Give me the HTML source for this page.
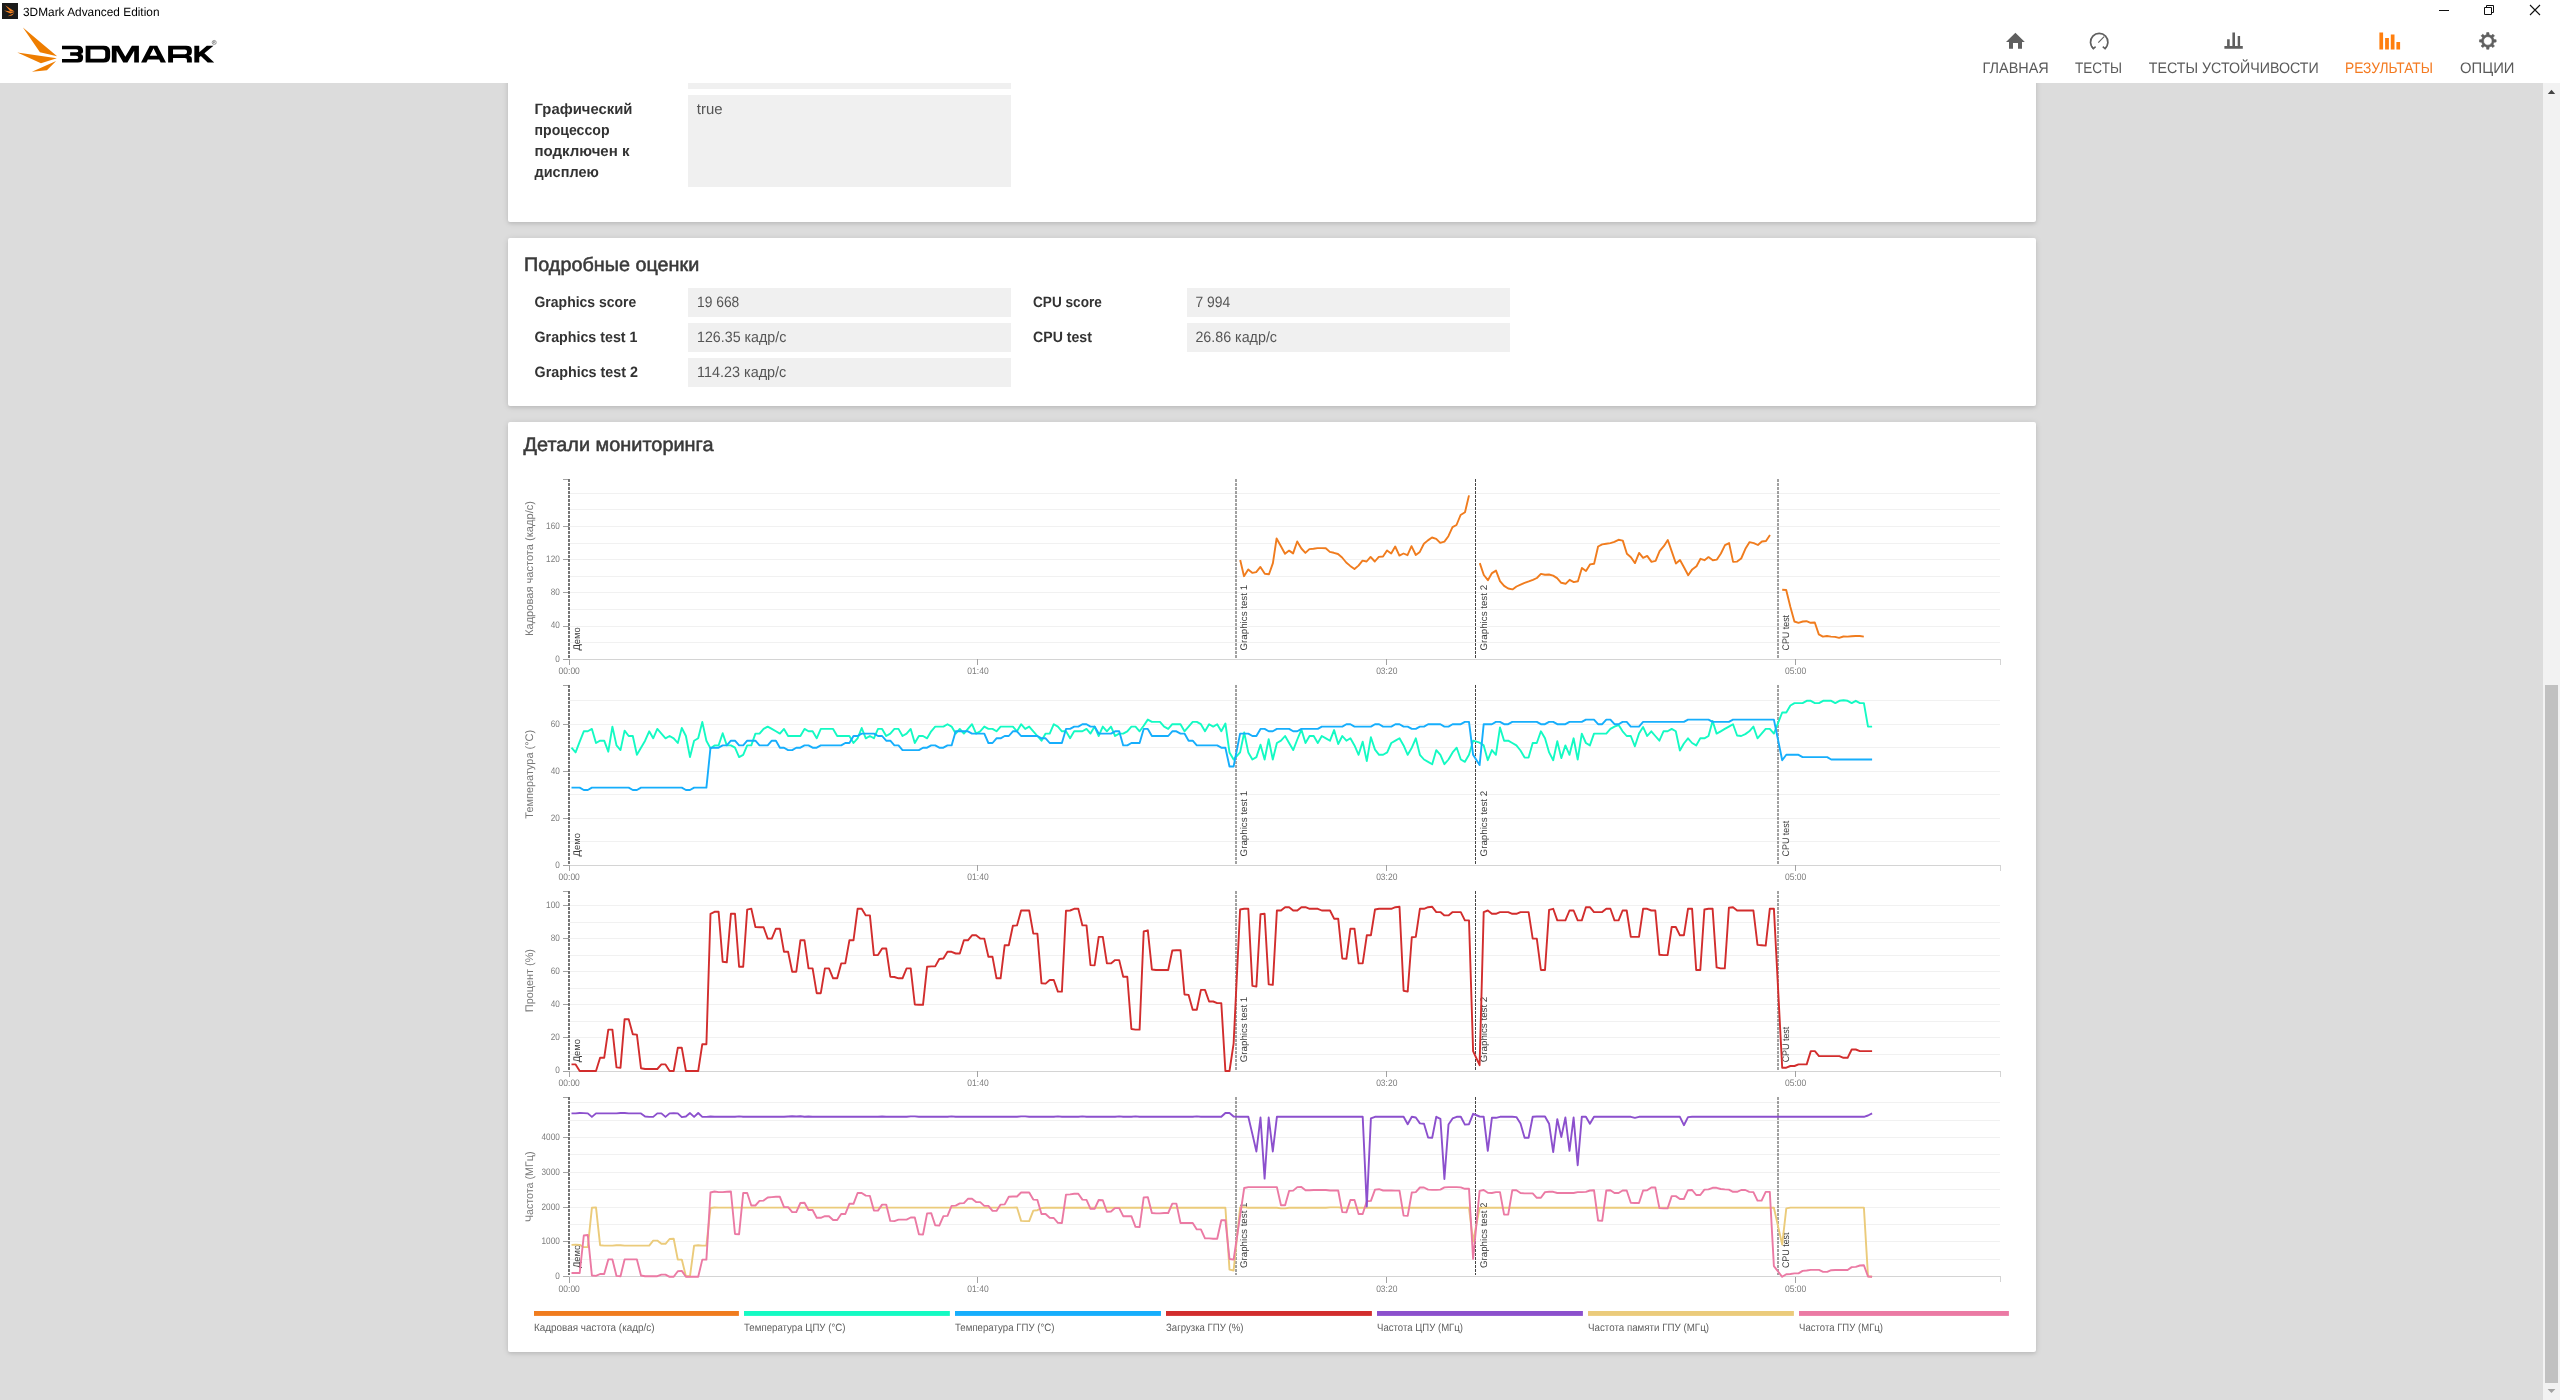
<!DOCTYPE html>
<html lang="ru"><head><meta charset="utf-8"><title>3DMark Advanced Edition</title>
<style>
html,body{margin:0;padding:0;width:2560px;height:1400px;overflow:hidden;background:#fff;font-family:"Liberation Sans", sans-serif;}
.abs{position:absolute;}
#bg{left:0;top:83px;width:2543px;height:1317px;background:#dcdcdc;overflow:hidden;}
.card{position:absolute;left:508px;width:1528px;background:#fff;border-radius:2px;box-shadow:0 1px 6px rgba(0,0,0,.12),0 2px 3px rgba(0,0,0,.06);}
.box{position:absolute;background:#f0f0f0;}
#sb{left:2543px;top:83px;width:17px;height:1317px;background:#f2f2f2;}
#th{left:2545px;top:685px;width:13px;height:698px;background:#c1c1c1;}
svg{position:absolute;left:0;top:0;font-family:"Liberation Sans", sans-serif;will-change:transform;}
</style></head><body>
<div class="abs" id="bg">
 <div class="card" style="top:-40px;height:179px"></div>
 <div class="card" style="top:155px;height:168px"></div>
 <div class="card" style="top:339px;height:930px"></div>
</div>
<div class="box" style="left:688px;top:83px;width:323px;height:6px"></div>
<div class="box" style="left:688px;top:95px;width:323px;height:92px"></div>
<div class="box" style="left:688px;top:288px;width:323px;height:28.5px"></div>
<div class="box" style="left:688px;top:323px;width:323px;height:28.5px"></div>
<div class="box" style="left:688px;top:358px;width:323px;height:28.5px"></div>
<div class="box" style="left:1187px;top:288px;width:323px;height:28.5px"></div>
<div class="box" style="left:1187px;top:323px;width:323px;height:28.5px"></div>
<div class="abs" id="sb"></div><div class="abs" id="th"></div>
<svg width="2560" height="1400" viewBox="0 0 2560 1400">
<path d="M2547.8 94 L2551.5 89.8 L2555.2 94 Z" fill="#444"/><path d="M2547.6 1389 L2551.5 1393 L2555.4 1389 Z" fill="#a3a3a3"/>
<rect x="2" y="3" width="16" height="16" fill="#1b1b1b"/>
<path d="M5.2 5.3 L14.6 11.6 L10 10.9 Z M4 10.6 L14.6 12.1 L10.3 13.5 Z M14.4 13 L11.9 15.6 L7.6 16.2 Z" fill="#f58220"/>
<text transform="translate(23.00,16.00) skewX(0.1)" font-size="12" fill="#000" textLength="136.50" lengthAdjust="spacingAndGlyphs">3DMark Advanced Edition</text>
<path d="M2439 10.5 H2449" stroke="#111" stroke-width="1" fill="none"/>
<path d="M2484.5 7.5 H2491.5 V14.5 H2484.5 Z M2486.5 7.5 V5.5 H2493.5 V12.5 H2491.5" stroke="#111" stroke-width="1" fill="none"/>
<path d="M2530 5 L2540 15 M2540 5 L2530 15" stroke="#111" stroke-width="1.1" fill="none"/>
<g transform="translate(10,22) scale(0.0859375)"><path d="M150 65 L548 398 L348 352 Z" fill="#ee7d00"/><path d="M85 355 L545 421 L360 479 Z" fill="#ee7d00"/><path d="M537 454 L430 560 L255 579 Z" fill="#ee7d00"/><g fill="#000" fill-rule="evenodd"><path d="M605 275 H790 Q850 275 850 330 V345 Q850 368 822 373 Q850 378 850 402 V418 Q850 472 790 472 H605 V430 H770 Q795 430 795 412 Q795 394 770 394 H700 V353 H770 Q795 353 795 336 Q795 318 770 318 H605 Z"/><path d="M880 275 H1090 Q1165 275 1165 340 V408 Q1165 472 1090 472 H880 Z M936 320 H1075 Q1108 320 1108 350 V398 Q1108 428 1075 428 H936 Z"/><path d="M1185 472 V275 H1268 L1342 405 L1418 275 H1500 V472 H1445 V335 L1366 472 H1318 L1240 335 V472 Z"/><path d="M1525 472 L1626 275 H1714 L1815 472 H1753 L1736 437 H1604 L1587 472 Z M1627 393 H1713 L1670 306 Z"/><path d="M1840 275 H2050 Q2116 275 2116 325 V350 Q2116 385 2082 394 Q2116 400 2116 430 V472 H2059 V442 Q2059 420 2035 420 H1897 V472 H1840 Z M1897 320 H2035 Q2059 320 2059 340 V356 Q2059 376 2035 376 H1897 Z"/><path d="M2145 275 H2202 V352 L2290 275 H2368 L2262 363 L2376 472 H2300 L2221 395 L2202 411 V472 H2145 Z"/></g><circle cx="2376" cy="238" r="24" fill="none" stroke="#666" stroke-width="7"/><path d="M2367 252 V225 H2378 Q2386 225 2386 232 Q2386 239 2378 239 H2367 M2378 239 L2387 252" stroke="#666" stroke-width="6" fill="none"/></g>
<path d="M2015.4 32.7 L2024.8 41.9 H2022 V48.8 H2018 V43 H2013 V48.8 H2009 V41.9 H2006 Z" fill="#5f5f5f"/>
<path d="M2093.6 48.8 A8.7 8.7 0 1 1 2104.8 48.8" stroke="#5f5f5f" stroke-width="1.7" fill="none"/>
<path d="M2091.6 46.4 L2093.4 48.7 L2095.6 46.6 M2102.8 46.6 L2105 48.7 L2106.8 46.4" stroke="#5f5f5f" stroke-width="1.5" fill="none"/>
<path d="M2098.3 42.7 L2104.1 36.6" stroke="#5f5f5f" stroke-width="1.1" fill="none"/>
<path d="M2224.4 46 H2242.8 V48.7 H2224.4 Z M2227.1 39.2 H2229.7 V46 H2227.1 Z M2232.4 32.5 H2235 V46 H2232.4 Z M2237.7 36 H2240.1 V46 H2237.7 Z" fill="#5f5f5f"/>
<path d="M2379.4 32.4 H2383.1 V49.6 H2379.4 Z M2385.1 38.1 H2388.9 V49.6 H2385.1 Z M2390.8 34.5 H2394.5 V49.6 H2390.8 Z M2396.4 42 H2400.1 V49.6 H2396.4 Z" fill="#ff7f0e"/>
<path d="M2486.47 34.74 L2486.68 32.57 L2488.92 32.57 L2489.13 34.74 L2491.22 35.61 L2492.90 34.22 L2494.48 35.80 L2493.09 37.48 L2493.96 39.57 L2496.13 39.78 L2496.13 42.02 L2493.96 42.23 L2493.09 44.32 L2494.48 46.00 L2492.90 47.58 L2491.22 46.19 L2489.13 47.06 L2488.92 49.23 L2486.68 49.23 L2486.47 47.06 L2484.38 46.19 L2482.70 47.58 L2481.12 46.00 L2482.51 44.32 L2481.64 42.23 L2479.47 42.02 L2479.47 39.78 L2481.64 39.57 L2482.51 37.48 L2481.12 35.80 L2482.70 34.22 L2484.38 35.61 Z M2483.55 40.90 A4.25 4.25 0 1 0 2492.05 40.90 A4.25 4.25 0 1 0 2483.55 40.90 Z" fill="#5f5f5f" fill-rule="evenodd" stroke="#5f5f5f" stroke-width="0.6" stroke-linejoin="round"/>
<text transform="translate(1982.50,72.80) skewX(0.1)" font-size="15.2" fill="#5a5a5a" textLength="66.30" lengthAdjust="spacingAndGlyphs">ГЛАВНАЯ</text>
<text transform="translate(2075.00,72.80) skewX(0.1)" font-size="15.2" fill="#5a5a5a" textLength="47.00" lengthAdjust="spacingAndGlyphs">ТЕСТЫ</text>
<text transform="translate(2148.80,72.80) skewX(0.1)" font-size="15.2" fill="#5a5a5a" textLength="170.00" lengthAdjust="spacingAndGlyphs">ТЕСТЫ УСТОЙЧИВОСТИ</text>
<text transform="translate(2345.00,72.80) skewX(0.1)" font-size="15.2" fill="#f47a20" textLength="88.00" lengthAdjust="spacingAndGlyphs">РЕЗУЛЬТАТЫ</text>
<text transform="translate(2460.00,72.80) skewX(0.1)" font-size="15.2" fill="#5a5a5a" textLength="54.50" lengthAdjust="spacingAndGlyphs">ОПЦИИ</text>
<text transform="translate(534.50,114.30) skewX(0.1)" font-size="15" fill="#333" font-weight="bold" textLength="98.00" lengthAdjust="spacingAndGlyphs">Графический</text>
<text transform="translate(534.50,135.30) skewX(0.1)" font-size="15" fill="#333" font-weight="bold" textLength="75.00" lengthAdjust="spacingAndGlyphs">процессор</text>
<text transform="translate(534.50,156.30) skewX(0.1)" font-size="15" fill="#333" font-weight="bold" textLength="95.00" lengthAdjust="spacingAndGlyphs">подключен к</text>
<text transform="translate(534.50,177.30) skewX(0.1)" font-size="15" fill="#333" font-weight="bold" textLength="64.30" lengthAdjust="spacingAndGlyphs">дисплею</text>
<text transform="translate(696.80,113.80) skewX(0.1)" font-size="15" fill="#555" textLength="25.80" lengthAdjust="spacingAndGlyphs">true</text>
<text transform="translate(524.00,271.20) skewX(0.1)" font-size="19.5" fill="#3a3a3a" textLength="175.30" lengthAdjust="spacingAndGlyphs" stroke="#3a3a3a" stroke-width="0.55">Подробные оценки</text>
<text transform="translate(534.50,307.20) skewX(0.1)" font-size="15" fill="#333" font-weight="bold" textLength="101.80" lengthAdjust="spacingAndGlyphs">Graphics score</text>
<text transform="translate(534.50,342.20) skewX(0.1)" font-size="15" fill="#333" font-weight="bold" textLength="103.00" lengthAdjust="spacingAndGlyphs">Graphics test 1</text>
<text transform="translate(534.50,377.20) skewX(0.1)" font-size="15" fill="#333" font-weight="bold" textLength="103.50" lengthAdjust="spacingAndGlyphs">Graphics test 2</text>
<text transform="translate(697.00,307.20) skewX(0.1)" font-size="15" fill="#555" textLength="42.30" lengthAdjust="spacingAndGlyphs">19 668</text>
<text transform="translate(697.00,342.20) skewX(0.1)" font-size="15" fill="#555" textLength="89.30" lengthAdjust="spacingAndGlyphs">126.35 кадр/с</text>
<text transform="translate(697.00,377.20) skewX(0.1)" font-size="15" fill="#555" textLength="89.30" lengthAdjust="spacingAndGlyphs">114.23 кадр/с</text>
<text transform="translate(1033.00,307.20) skewX(0.1)" font-size="15" fill="#333" font-weight="bold" textLength="68.90" lengthAdjust="spacingAndGlyphs">CPU score</text>
<text transform="translate(1033.00,342.20) skewX(0.1)" font-size="15" fill="#333" font-weight="bold" textLength="58.90" lengthAdjust="spacingAndGlyphs">CPU test</text>
<text transform="translate(1195.40,307.20) skewX(0.1)" font-size="15" fill="#555" textLength="34.80" lengthAdjust="spacingAndGlyphs">7 994</text>
<text transform="translate(1195.40,342.20) skewX(0.1)" font-size="15" fill="#555" textLength="81.60" lengthAdjust="spacingAndGlyphs">26.86 кадр/с</text>
<text transform="translate(523.50,451.20) skewX(0.1)" font-size="19.5" fill="#3a3a3a" textLength="190.00" lengthAdjust="spacingAndGlyphs" stroke="#3a3a3a" stroke-width="0.55">Детали мониторинга</text>
<path d="M569.2 642.60H2000.3M569.2 626.00H2000.3M569.2 609.40H2000.3M569.2 592.80H2000.3M569.2 576.20H2000.3M569.2 559.60H2000.3M569.2 543.00H2000.3M569.2 526.40H2000.3M569.2 509.80H2000.3M569.2 493.20H2000.3" stroke="#f1f1f1" stroke-width="1" fill="none" shape-rendering="crispEdges"/>
<path d="M569.2 659.20H2000.3V664.70" stroke="#d4d4d4" stroke-width="1" fill="none" shape-rendering="crispEdges"/>
<path d="M569.5 659.20v6M977.5 659.20v6M1386.5 659.20v6M1795.5 659.20v6" stroke="#a2a2a2" stroke-width="1" fill="none" shape-rendering="crispEdges"/>
<text transform="translate(569.20,673.90) skewX(0.1)" font-size="9.4" fill="#7c7c7c" text-anchor="middle" textLength="21.30" lengthAdjust="spacingAndGlyphs">00:00</text>
<text transform="translate(977.98,673.90) skewX(0.1)" font-size="9.4" fill="#7c7c7c" text-anchor="middle" textLength="21.30" lengthAdjust="spacingAndGlyphs">01:40</text>
<text transform="translate(1386.77,673.90) skewX(0.1)" font-size="9.4" fill="#7c7c7c" text-anchor="middle" textLength="21.30" lengthAdjust="spacingAndGlyphs">03:20</text>
<text transform="translate(1795.55,673.90) skewX(0.1)" font-size="9.4" fill="#7c7c7c" text-anchor="middle" textLength="21.30" lengthAdjust="spacingAndGlyphs">05:00</text>
<path d="M563.2 659.20h6M563.2 626.00h6M563.2 592.80h6M563.2 559.60h6M563.2 526.40h6M563.2 479.50h6" stroke="#a2a2a2" stroke-width="1" fill="none" shape-rendering="crispEdges"/>
<text transform="translate(559.80,661.65) skewX(0.1)" font-size="9.4" fill="#7c7c7c" text-anchor="end" textLength="4.57" lengthAdjust="spacingAndGlyphs">0</text>
<text transform="translate(559.80,628.45) skewX(0.1)" font-size="9.4" fill="#7c7c7c" text-anchor="end" textLength="9.14" lengthAdjust="spacingAndGlyphs">40</text>
<text transform="translate(559.80,595.25) skewX(0.1)" font-size="9.4" fill="#7c7c7c" text-anchor="end" textLength="9.14" lengthAdjust="spacingAndGlyphs">80</text>
<text transform="translate(559.80,562.05) skewX(0.1)" font-size="9.4" fill="#7c7c7c" text-anchor="end" textLength="13.71" lengthAdjust="spacingAndGlyphs">120</text>
<text transform="translate(559.80,528.85) skewX(0.1)" font-size="9.4" fill="#7c7c7c" text-anchor="end" textLength="13.71" lengthAdjust="spacingAndGlyphs">160</text>
<text transform="translate(533.20,568.50) rotate(-90) skewX(0.1)" font-size="11" fill="#777" text-anchor="middle" textLength="135.00" lengthAdjust="spacingAndGlyphs">Кадровая частота (кадр/с)</text>
<path d="M569.0 479V658" stroke="#686868" stroke-width="1.8" stroke-dasharray="3 1" fill="none"/>
<text transform="translate(580.10,650.50) rotate(-90) skewX(0.1)" font-size="9.6" fill="#3a3a3a" textLength="23.3" lengthAdjust="spacingAndGlyphs">Демо</text>
<path d="M1236.0 479V658" stroke="#454545" stroke-width="1" stroke-dasharray="3 1" fill="none"/>
<text transform="translate(1247.10,650.50) rotate(-90) skewX(0.1)" font-size="9.6" fill="#3a3a3a" textLength="65.6" lengthAdjust="spacingAndGlyphs">Graphics test 1</text>
<path d="M1475.5 479V658" stroke="#454545" stroke-width="1" stroke-dasharray="3 1" fill="none"/>
<text transform="translate(1486.60,650.50) rotate(-90) skewX(0.1)" font-size="9.6" fill="#3a3a3a" textLength="65.6" lengthAdjust="spacingAndGlyphs">Graphics test 2</text>
<path d="M1778.0 479V658" stroke="#454545" stroke-width="1" stroke-dasharray="3 1" fill="none"/>
<text transform="translate(1789.10,650.50) rotate(-90) skewX(0.1)" font-size="9.6" fill="#3a3a3a" textLength="35.6" lengthAdjust="spacingAndGlyphs">CPU test</text>
<path d="M1240.2 560.0L1244.0 576.2L1248.2 569.4L1252.5 572.9L1256.2 572.1L1260.4 566.9L1264.8 573.8L1269.0 574.2L1272.9 563.1L1276.6 538.5L1280.9 546.2L1285.0 553.8L1289.1 550.6L1293.1 553.4L1297.2 541.5L1301.4 548.5L1305.4 552.9L1309.4 549.1L1313.5 548.8L1317.5 548.1L1321.9 548.1L1325.8 548.2L1329.8 551.9L1333.8 552.8L1338.0 554.0L1342.1 557.5L1346.2 562.5L1350.2 565.9L1354.5 569.0L1358.5 565.6L1362.5 560.6L1366.6 561.5L1370.6 556.9L1374.8 561.5L1378.8 556.9L1383.0 556.5L1387.0 550.4L1391.2 553.4L1395.2 546.5L1399.4 555.6L1403.5 553.5L1407.5 555.2L1411.5 546.2L1415.8 555.0L1419.8 551.9L1423.9 543.8L1427.9 540.4L1432.0 537.5L1436.2 538.8L1440.2 542.9L1444.4 541.6L1448.4 536.2L1452.5 527.2L1456.5 525.0L1460.6 515.0L1465.0 512.2L1469.0 495.4M1479.8 563.1L1483.8 575.0L1487.9 580.2L1492.0 573.1L1496.0 570.6L1500.0 581.2L1504.1 585.9L1508.2 588.5L1512.5 589.4L1516.5 586.5L1520.6 584.6L1524.6 582.9L1528.8 581.4L1532.9 579.8L1536.9 578.0L1540.9 573.9L1545.0 574.8L1549.0 574.5L1553.1 575.6L1557.1 578.1L1561.2 582.8L1565.6 583.8L1569.6 579.8L1573.8 582.1L1577.9 581.2L1581.9 567.9L1586.0 571.0L1590.0 564.4L1594.1 563.8L1598.1 546.5L1602.2 544.4L1606.2 543.8L1610.4 543.1L1614.4 541.9L1618.5 539.8L1622.8 540.6L1626.9 553.8L1630.9 557.2L1635.0 563.1L1639.1 552.9L1643.1 557.8L1647.2 555.9L1651.5 561.9L1655.6 560.9L1659.6 551.2L1663.8 546.2L1667.8 540.0L1671.9 551.9L1675.9 563.5L1680.0 560.0L1684.1 567.5L1688.2 575.2L1692.2 569.4L1696.5 566.2L1700.5 558.8L1704.5 560.2L1708.5 557.1L1712.8 560.2L1716.9 559.6L1720.9 553.5L1725.0 545.2L1729.1 543.1L1733.1 561.9L1737.1 561.6L1741.2 558.5L1745.4 548.8L1749.6 542.1L1753.8 543.1L1757.9 545.0L1761.9 541.5L1766.0 541.0L1770.0 535.0M1782.2 589.8L1786.2 590.0L1790.4 606.9L1794.4 621.5L1798.5 622.8L1802.8 621.5L1806.5 621.2L1810.6 622.8L1814.8 622.5L1818.8 634.4L1822.9 636.6L1826.9 636.0L1831.0 636.6L1835.0 636.9L1839.1 637.9L1843.4 636.5L1847.5 636.6L1851.5 636.2L1855.6 636.0L1859.8 636.0L1863.8 636.6" stroke="#f07c1e" stroke-width="1.9" fill="none" stroke-linejoin="round" stroke-linecap="butt"/>
<path d="M569.2 841.62H2000.3M569.2 818.15H2000.3M569.2 794.67H2000.3M569.2 771.20H2000.3M569.2 747.73H2000.3M569.2 724.25H2000.3M569.2 700.77H2000.3" stroke="#f1f1f1" stroke-width="1" fill="none" shape-rendering="crispEdges"/>
<path d="M569.2 865.10H2000.3V870.60" stroke="#d4d4d4" stroke-width="1" fill="none" shape-rendering="crispEdges"/>
<path d="M569.5 865.10v6M977.5 865.10v6M1386.5 865.10v6M1795.5 865.10v6" stroke="#a2a2a2" stroke-width="1" fill="none" shape-rendering="crispEdges"/>
<text transform="translate(569.20,879.80) skewX(0.1)" font-size="9.4" fill="#7c7c7c" text-anchor="middle" textLength="21.30" lengthAdjust="spacingAndGlyphs">00:00</text>
<text transform="translate(977.98,879.80) skewX(0.1)" font-size="9.4" fill="#7c7c7c" text-anchor="middle" textLength="21.30" lengthAdjust="spacingAndGlyphs">01:40</text>
<text transform="translate(1386.77,879.80) skewX(0.1)" font-size="9.4" fill="#7c7c7c" text-anchor="middle" textLength="21.30" lengthAdjust="spacingAndGlyphs">03:20</text>
<text transform="translate(1795.55,879.80) skewX(0.1)" font-size="9.4" fill="#7c7c7c" text-anchor="middle" textLength="21.30" lengthAdjust="spacingAndGlyphs">05:00</text>
<path d="M563.2 865.10h6M563.2 818.15h6M563.2 771.20h6M563.2 724.25h6M563.2 685.20h6" stroke="#a2a2a2" stroke-width="1" fill="none" shape-rendering="crispEdges"/>
<text transform="translate(559.80,867.55) skewX(0.1)" font-size="9.4" fill="#7c7c7c" text-anchor="end" textLength="4.57" lengthAdjust="spacingAndGlyphs">0</text>
<text transform="translate(559.80,820.60) skewX(0.1)" font-size="9.4" fill="#7c7c7c" text-anchor="end" textLength="9.14" lengthAdjust="spacingAndGlyphs">20</text>
<text transform="translate(559.80,773.65) skewX(0.1)" font-size="9.4" fill="#7c7c7c" text-anchor="end" textLength="9.14" lengthAdjust="spacingAndGlyphs">40</text>
<text transform="translate(559.80,726.70) skewX(0.1)" font-size="9.4" fill="#7c7c7c" text-anchor="end" textLength="9.14" lengthAdjust="spacingAndGlyphs">60</text>
<text transform="translate(533.20,774.30) rotate(-90) skewX(0.1)" font-size="11" fill="#777" text-anchor="middle" textLength="88.70" lengthAdjust="spacingAndGlyphs">Температура (°C)</text>
<path d="M569.0 685V864" stroke="#686868" stroke-width="1.8" stroke-dasharray="3 1" fill="none"/>
<text transform="translate(580.10,856.40) rotate(-90) skewX(0.1)" font-size="9.6" fill="#3a3a3a" textLength="23.3" lengthAdjust="spacingAndGlyphs">Демо</text>
<path d="M1236.0 685V864" stroke="#454545" stroke-width="1" stroke-dasharray="3 1" fill="none"/>
<text transform="translate(1247.10,856.40) rotate(-90) skewX(0.1)" font-size="9.6" fill="#3a3a3a" textLength="65.6" lengthAdjust="spacingAndGlyphs">Graphics test 1</text>
<path d="M1475.5 685V864" stroke="#454545" stroke-width="1" stroke-dasharray="3 1" fill="none"/>
<text transform="translate(1486.60,856.40) rotate(-90) skewX(0.1)" font-size="9.6" fill="#3a3a3a" textLength="65.6" lengthAdjust="spacingAndGlyphs">Graphics test 2</text>
<path d="M1778.0 685V864" stroke="#454545" stroke-width="1" stroke-dasharray="3 1" fill="none"/>
<text transform="translate(1789.10,856.40) rotate(-90) skewX(0.1)" font-size="9.6" fill="#3a3a3a" textLength="35.6" lengthAdjust="spacingAndGlyphs">CPU test</text>
<path d="M571.5 747.7L575.6 752.4L579.7 741.6L583.8 731.3L587.8 731.3L591.9 728.9L596.0 743.0L600.1 740.7L604.2 740.7L608.3 751.7L612.4 726.6L616.5 745.4L620.5 750.1L624.6 730.6L628.7 736.0L632.8 736.0L636.9 754.8L641.0 747.7L645.1 740.7L649.2 731.3L653.2 738.3L657.3 728.9L661.4 733.6L665.5 738.3L669.6 736.0L673.7 738.3L677.8 743.0L681.8 728.0L685.9 736.0L690.0 757.1L694.1 740.7L698.2 738.3L702.3 721.9L706.4 740.7L710.5 748.4L714.5 745.4L718.6 745.4L722.7 733.2L726.8 745.4L730.9 745.4L735.0 747.7L739.1 757.1L743.2 754.8L747.2 745.4L751.3 745.4L755.4 733.6L759.5 733.6L763.6 728.9L767.7 726.6L771.8 728.9L775.9 731.3L779.9 733.6L784.0 728.9L788.1 736.0L792.2 736.0L796.3 736.0L800.4 736.0L804.5 728.9L808.5 731.3L812.6 731.3L816.7 738.3L820.8 728.9L824.9 728.9L829.0 728.9L833.1 728.9L837.2 736.0L841.2 736.0L845.3 736.0L849.4 736.0L853.5 743.0L857.6 738.3L861.7 728.0L865.8 738.3L869.9 736.0L873.9 738.3L878.0 728.9L882.1 728.9L886.2 736.0L890.3 733.6L894.4 728.9L898.5 728.9L902.5 736.0L906.6 733.6L910.7 728.9L914.8 743.0L918.9 736.0L923.0 736.0L927.1 738.3L931.2 731.3L935.2 726.6L939.3 726.6L943.4 726.6L947.5 724.2L951.6 726.6L955.7 733.6L959.8 728.9L963.9 733.6L967.9 728.9L972.0 724.2L976.1 733.6L980.2 731.3L984.3 726.6L988.4 728.9L992.5 728.9L996.5 731.3L1000.6 726.6L1004.7 726.6L1008.8 726.6L1012.9 726.6L1017.0 731.3L1021.1 724.2L1025.2 728.9L1029.2 726.6L1033.3 731.3L1037.4 736.0L1041.5 740.7L1045.6 733.6L1049.7 733.6L1053.8 724.2L1057.9 726.6L1061.9 731.3L1066.0 731.3L1070.1 738.3L1074.2 731.3L1078.3 731.3L1082.4 731.3L1086.5 728.9L1090.5 733.6L1094.6 726.6L1098.7 736.0L1102.8 726.6L1106.9 731.3L1111.0 726.6L1115.1 736.0L1119.2 733.6L1123.2 733.6L1127.3 731.3L1131.4 726.6L1135.5 726.6L1139.6 731.3L1143.7 725.7L1147.8 719.6L1151.9 721.9L1155.9 721.9L1160.0 721.9L1164.1 726.6L1168.2 728.9L1172.3 724.2L1176.4 724.2L1180.5 724.2L1184.5 731.3L1188.6 726.6L1192.7 721.9L1196.8 721.9L1200.9 724.2L1205.0 731.3L1209.1 724.2L1213.2 726.6L1217.2 724.2L1221.3 731.3L1225.4 723.5L1229.5 752.4L1233.6 759.5L1240.1 752.4L1244.2 732.5L1248.3 752.4L1252.4 759.5L1256.4 757.1L1260.5 744.7L1264.6 759.5L1268.7 739.3L1272.8 759.5L1276.9 743.0L1281.0 740.7L1285.1 736.0L1289.1 743.0L1293.2 750.1L1297.3 739.5L1301.4 729.6L1305.5 743.0L1309.6 736.0L1313.7 736.0L1317.8 743.0L1321.8 736.0L1325.9 738.3L1330.0 740.7L1334.1 730.1L1338.2 744.0L1342.3 736.0L1346.4 740.7L1350.4 738.3L1354.5 745.4L1358.6 754.8L1362.7 741.6L1366.8 761.1L1370.9 737.2L1375.0 749.6L1379.1 754.8L1383.1 754.8L1387.2 752.4L1391.3 743.0L1395.4 740.7L1399.5 738.3L1403.6 745.4L1407.7 754.8L1411.8 747.7L1415.8 738.3L1419.9 754.8L1424.0 759.5L1428.1 761.8L1432.2 764.2L1436.3 750.1L1440.4 754.8L1444.4 764.2L1448.5 759.5L1452.6 752.4L1456.7 747.7L1460.8 759.5L1464.9 761.8L1469.0 754.8L1473.1 740.7L1479.6 742.6L1483.7 745.4L1487.8 760.2L1491.9 750.1L1495.9 754.8L1500.0 727.5L1504.1 740.7L1508.2 740.7L1512.3 743.0L1516.4 745.4L1520.5 750.5L1524.6 757.6L1528.6 757.6L1532.7 743.0L1536.8 743.0L1540.9 731.3L1545.0 738.3L1549.1 752.4L1553.2 760.2L1557.3 741.2L1561.3 758.1L1565.4 745.4L1569.5 754.8L1573.6 738.3L1577.7 759.5L1581.8 733.6L1585.9 743.0L1589.9 745.4L1594.0 733.6L1598.1 733.6L1602.2 733.6L1606.3 733.6L1610.4 728.9L1614.5 726.6L1618.6 725.0L1622.6 731.3L1626.7 736.0L1630.8 736.0L1634.9 746.3L1639.0 733.6L1643.1 727.1L1647.2 736.0L1651.3 731.3L1655.3 736.0L1659.4 740.7L1663.5 731.3L1667.6 731.3L1671.7 728.9L1675.8 731.3L1679.9 750.5L1683.9 743.5L1688.0 738.3L1692.1 743.0L1696.2 745.4L1700.3 738.3L1704.4 738.3L1708.5 736.0L1712.6 721.0L1716.6 733.6L1720.7 731.3L1724.8 728.9L1728.9 726.6L1733.0 724.2L1737.1 735.5L1741.2 736.0L1745.3 734.1L1749.3 731.3L1753.4 726.6L1757.5 738.3L1761.6 733.6L1765.7 728.9L1769.8 728.9L1773.9 733.6L1782.2 712.5L1786.3 712.5L1790.4 705.5L1794.5 703.1L1798.5 703.1L1802.6 703.1L1806.7 700.8L1810.8 700.8L1814.9 703.1L1819.0 703.1L1823.1 700.8L1827.2 700.8L1831.2 700.8L1835.3 703.1L1839.4 700.8L1843.5 700.3L1847.6 700.8L1851.7 703.1L1855.8 700.8L1859.9 703.1L1863.9 703.1L1868.0 726.6L1872.1 726.6" stroke="#14fac3" stroke-width="1.9" fill="none" stroke-linejoin="round" stroke-linecap="butt"/>
<path d="M571.5 787.6L575.6 787.6L579.7 787.6L583.8 790.0L587.8 790.0L591.9 787.6L596.0 787.6L600.1 787.6L604.2 787.6L608.3 787.6L612.4 787.6L616.5 787.6L620.5 787.6L624.6 787.6L628.7 787.6L632.8 790.0L636.9 790.0L641.0 787.6L645.1 787.6L649.2 787.6L653.2 787.6L657.3 787.6L661.4 787.6L665.5 787.6L669.6 787.6L673.7 787.6L677.8 787.6L681.8 787.6L685.9 790.0L690.0 790.0L694.1 787.6L698.2 787.6L702.3 787.6L706.4 787.6L710.5 747.7L714.5 747.7L718.6 747.7L722.7 745.4L726.8 745.4L730.9 740.7L735.0 740.7L739.1 745.4L743.2 745.4L747.2 740.7L751.3 740.7L755.4 740.7L759.5 745.4L763.6 745.4L767.7 745.4L771.8 740.7L775.9 740.7L779.9 747.7L784.0 747.7L788.1 750.1L792.2 750.1L796.3 747.7L800.4 747.7L804.5 745.4L808.5 745.4L812.6 747.7L816.7 747.7L820.8 745.4L824.9 745.4L829.0 745.4L833.1 745.4L837.2 745.4L841.2 745.4L845.3 743.0L849.4 743.0L853.5 736.0L857.6 736.0L861.7 733.6L865.8 733.6L869.9 733.6L873.9 733.6L878.0 736.0L882.1 736.0L886.2 740.7L890.3 740.7L894.4 745.4L898.5 745.4L902.5 750.1L906.6 750.1L910.7 750.1L914.8 750.1L918.9 750.1L923.0 747.7L927.1 747.7L931.2 745.4L935.2 745.4L939.3 747.7L943.4 747.7L947.5 745.4L951.6 745.4L955.7 731.3L959.8 731.3L963.9 731.3L967.9 731.3L972.0 733.6L976.1 733.6L980.2 733.6L984.3 733.6L988.4 743.0L992.5 743.0L996.5 738.3L1000.6 738.3L1004.7 736.0L1008.8 736.0L1012.9 731.3L1017.0 731.3L1021.1 736.0L1025.2 736.0L1029.2 736.0L1033.3 736.0L1037.4 736.0L1041.5 738.3L1045.6 738.3L1049.7 743.0L1053.8 743.0L1057.9 743.0L1061.9 743.0L1066.0 728.9L1070.1 728.9L1074.2 726.6L1078.3 726.6L1082.4 724.2L1086.5 724.2L1090.5 726.6L1094.6 726.6L1098.7 733.6L1102.8 733.6L1106.9 733.6L1111.0 733.6L1115.1 731.3L1119.2 731.3L1123.2 745.4L1127.3 745.4L1131.4 743.0L1135.5 743.0L1139.6 743.0L1143.7 728.9L1147.8 728.9L1151.9 736.0L1155.9 736.0L1160.0 736.0L1164.1 736.0L1168.2 736.0L1172.3 731.3L1176.4 731.3L1180.5 733.6L1184.5 733.6L1188.6 740.7L1192.7 740.7L1196.8 745.4L1200.9 745.4L1205.0 745.4L1209.1 745.4L1213.2 745.4L1217.2 745.4L1221.3 747.7L1225.4 747.7L1229.5 766.5L1233.6 766.5L1240.1 733.6L1244.2 733.6L1248.3 733.6L1252.4 736.0L1256.4 736.0L1260.5 728.9L1264.6 728.9L1268.7 731.3L1272.8 731.3L1276.9 728.9L1281.0 728.9L1285.1 728.9L1289.1 728.9L1293.2 731.3L1297.3 731.3L1301.4 728.9L1305.5 728.9L1309.6 728.9L1313.7 728.9L1317.8 728.9L1321.8 726.6L1325.9 726.6L1330.0 726.6L1334.1 726.6L1338.2 726.6L1342.3 726.6L1346.4 724.2L1350.4 724.2L1354.5 726.6L1358.6 726.6L1362.7 726.6L1366.8 726.6L1370.9 726.6L1375.0 724.2L1379.1 724.2L1383.1 726.6L1387.2 726.6L1391.3 726.6L1395.4 724.2L1399.5 724.2L1403.6 726.6L1407.7 726.6L1411.8 728.9L1415.8 728.9L1419.9 726.6L1424.0 726.6L1428.1 724.2L1432.2 724.2L1436.3 724.2L1440.4 724.2L1444.4 726.6L1448.5 726.6L1452.6 724.2L1456.7 724.2L1460.8 724.2L1464.9 721.9L1469.0 721.9L1473.1 754.8L1479.6 765.1L1483.7 724.2L1487.8 724.2L1491.9 724.2L1495.9 721.9L1500.0 721.9L1504.1 724.2L1508.2 724.2L1512.3 721.9L1516.4 721.9L1520.5 721.9L1524.6 721.9L1528.6 721.9L1532.7 721.9L1536.8 721.9L1540.9 724.2L1545.0 724.2L1549.1 721.9L1553.2 721.9L1557.3 724.2L1561.3 724.2L1565.4 724.2L1569.5 721.9L1573.6 721.9L1577.7 721.9L1581.8 721.9L1585.9 719.6L1589.9 719.6L1594.0 719.6L1598.1 724.2L1602.2 724.2L1606.3 719.6L1610.4 719.6L1614.5 724.2L1618.6 724.2L1622.6 721.9L1626.7 721.9L1630.8 726.6L1634.9 726.6L1639.0 726.6L1643.1 721.9L1647.2 721.9L1651.3 721.9L1655.3 721.9L1659.4 721.9L1663.5 721.9L1667.6 721.9L1671.7 721.9L1675.8 721.9L1679.9 721.9L1683.9 721.9L1688.0 719.6L1692.1 719.6L1696.2 719.6L1700.3 719.6L1704.4 719.6L1708.5 719.6L1712.6 721.9L1716.6 721.9L1720.7 721.9L1724.8 721.9L1728.9 721.9L1733.0 719.6L1737.1 719.6L1741.2 719.6L1745.3 719.6L1749.3 719.6L1753.4 719.6L1757.5 719.6L1761.6 719.6L1765.7 719.6L1769.8 719.6L1773.9 719.6L1782.2 760.2L1786.3 754.8L1790.4 754.8L1794.5 754.8L1798.5 754.8L1802.6 757.1L1806.7 757.1L1810.8 757.1L1814.9 757.1L1819.0 757.1L1823.1 757.1L1827.2 757.1L1831.2 759.5L1835.3 759.5L1839.4 759.5L1843.5 759.5L1847.6 759.5L1851.7 759.5L1855.8 759.5L1859.9 759.5L1863.9 759.5L1868.0 759.5L1872.1 759.5" stroke="#16aefc" stroke-width="1.9" fill="none" stroke-linejoin="round" stroke-linecap="butt"/>
<path d="M569.2 1054.45H2000.3M569.2 1037.90H2000.3M569.2 1021.35H2000.3M569.2 1004.80H2000.3M569.2 988.25H2000.3M569.2 971.70H2000.3M569.2 955.15H2000.3M569.2 938.60H2000.3M569.2 922.05H2000.3M569.2 905.50H2000.3" stroke="#f1f1f1" stroke-width="1" fill="none" shape-rendering="crispEdges"/>
<path d="M569.2 1071.00H2000.3V1076.50" stroke="#d4d4d4" stroke-width="1" fill="none" shape-rendering="crispEdges"/>
<path d="M569.5 1071.00v6M977.5 1071.00v6M1386.5 1071.00v6M1795.5 1071.00v6" stroke="#a2a2a2" stroke-width="1" fill="none" shape-rendering="crispEdges"/>
<text transform="translate(569.20,1085.70) skewX(0.1)" font-size="9.4" fill="#7c7c7c" text-anchor="middle" textLength="21.30" lengthAdjust="spacingAndGlyphs">00:00</text>
<text transform="translate(977.98,1085.70) skewX(0.1)" font-size="9.4" fill="#7c7c7c" text-anchor="middle" textLength="21.30" lengthAdjust="spacingAndGlyphs">01:40</text>
<text transform="translate(1386.77,1085.70) skewX(0.1)" font-size="9.4" fill="#7c7c7c" text-anchor="middle" textLength="21.30" lengthAdjust="spacingAndGlyphs">03:20</text>
<text transform="translate(1795.55,1085.70) skewX(0.1)" font-size="9.4" fill="#7c7c7c" text-anchor="middle" textLength="21.30" lengthAdjust="spacingAndGlyphs">05:00</text>
<path d="M563.2 1071.00h6M563.2 1037.90h6M563.2 1004.80h6M563.2 971.70h6M563.2 938.60h6M563.2 905.50h6M563.2 891.50h6" stroke="#a2a2a2" stroke-width="1" fill="none" shape-rendering="crispEdges"/>
<text transform="translate(559.80,1073.45) skewX(0.1)" font-size="9.4" fill="#7c7c7c" text-anchor="end" textLength="4.57" lengthAdjust="spacingAndGlyphs">0</text>
<text transform="translate(559.80,1040.35) skewX(0.1)" font-size="9.4" fill="#7c7c7c" text-anchor="end" textLength="9.14" lengthAdjust="spacingAndGlyphs">20</text>
<text transform="translate(559.80,1007.25) skewX(0.1)" font-size="9.4" fill="#7c7c7c" text-anchor="end" textLength="9.14" lengthAdjust="spacingAndGlyphs">40</text>
<text transform="translate(559.80,974.15) skewX(0.1)" font-size="9.4" fill="#7c7c7c" text-anchor="end" textLength="9.14" lengthAdjust="spacingAndGlyphs">60</text>
<text transform="translate(559.80,941.05) skewX(0.1)" font-size="9.4" fill="#7c7c7c" text-anchor="end" textLength="9.14" lengthAdjust="spacingAndGlyphs">80</text>
<text transform="translate(559.80,907.95) skewX(0.1)" font-size="9.4" fill="#7c7c7c" text-anchor="end" textLength="13.71" lengthAdjust="spacingAndGlyphs">100</text>
<text transform="translate(533.20,980.60) rotate(-90) skewX(0.1)" font-size="11" fill="#777" text-anchor="middle" textLength="63.20" lengthAdjust="spacingAndGlyphs">Процент (%)</text>
<path d="M569.0 891V1070" stroke="#686868" stroke-width="1.8" stroke-dasharray="3 1" fill="none"/>
<text transform="translate(580.10,1062.30) rotate(-90) skewX(0.1)" font-size="9.6" fill="#3a3a3a" textLength="23.3" lengthAdjust="spacingAndGlyphs">Демо</text>
<path d="M1236.0 891V1070" stroke="#454545" stroke-width="1" stroke-dasharray="3 1" fill="none"/>
<text transform="translate(1247.10,1062.30) rotate(-90) skewX(0.1)" font-size="9.6" fill="#3a3a3a" textLength="65.6" lengthAdjust="spacingAndGlyphs">Graphics test 1</text>
<path d="M1475.5 891V1070" stroke="#454545" stroke-width="1" stroke-dasharray="3 1" fill="none"/>
<text transform="translate(1486.60,1062.30) rotate(-90) skewX(0.1)" font-size="9.6" fill="#3a3a3a" textLength="65.6" lengthAdjust="spacingAndGlyphs">Graphics test 2</text>
<path d="M1778.0 891V1070" stroke="#454545" stroke-width="1" stroke-dasharray="3 1" fill="none"/>
<text transform="translate(1789.10,1062.30) rotate(-90) skewX(0.1)" font-size="9.6" fill="#3a3a3a" textLength="35.6" lengthAdjust="spacingAndGlyphs">CPU test</text>
<path d="M571.5 1064.4L575.6 1064.4L579.7 1071.0L583.8 1071.0L587.8 1071.0L591.9 1071.0L596.0 1071.0L600.1 1057.8L604.2 1057.8L608.3 1029.6L612.4 1029.6L616.5 1067.4L620.5 1067.7L624.6 1019.2L628.7 1019.2L632.8 1034.3L636.9 1034.6L641.0 1068.2L645.1 1069.0L649.2 1069.0L653.2 1069.0L657.3 1069.0L661.4 1064.4L665.5 1064.4L669.6 1071.0L673.7 1071.0L677.8 1047.8L681.8 1047.8L685.9 1071.0L690.0 1071.0L694.1 1071.0L698.2 1071.0L702.3 1044.2L706.4 1044.2L710.5 913.8L714.5 911.8L718.6 911.8L722.7 961.8L726.8 962.3L730.9 913.8L735.0 913.8L739.1 966.7L743.2 966.7L747.2 909.6L751.3 908.6L755.4 927.0L759.5 927.3L763.6 927.3L767.7 938.6L771.8 938.6L775.9 928.7L779.9 928.7L784.0 951.8L788.1 951.8L792.2 971.7L796.3 971.7L800.4 940.3L804.5 940.3L808.5 968.4L812.6 968.4L816.7 993.2L820.8 993.2L824.9 968.4L829.0 968.4L833.1 978.3L837.2 978.3L841.2 963.4L845.3 963.4L849.4 940.3L853.5 940.3L857.6 908.8L861.7 908.8L865.8 915.4L869.9 915.4L873.9 955.1L878.0 955.1L882.1 948.5L886.2 948.5L890.3 976.7L894.4 977.0L898.5 978.3L902.5 978.3L906.6 968.4L910.7 968.4L914.8 1004.5L918.9 1004.8L923.0 1004.8L927.1 966.7L931.2 966.4L935.2 966.4L939.3 959.0L943.4 958.5L947.5 951.8L951.6 951.8L955.7 953.5L959.8 953.5L963.9 940.3L967.9 940.3L972.0 935.3L976.1 935.3L980.2 938.6L984.3 938.6L988.4 956.8L992.5 956.8L996.5 978.3L1000.6 978.3L1004.7 945.2L1008.8 945.2L1012.9 925.7L1017.0 925.4L1021.1 910.5L1025.2 910.5L1029.2 910.5L1033.3 933.6L1037.4 933.6L1041.5 983.3L1045.6 983.6L1049.7 980.0L1053.8 980.0L1057.9 991.6L1061.9 991.6L1066.0 910.8L1070.1 910.5L1074.2 908.8L1078.3 908.8L1082.4 925.4L1086.5 925.4L1090.5 965.1L1094.6 965.4L1098.7 936.9L1102.8 936.9L1106.9 963.4L1111.0 963.4L1115.1 960.1L1119.2 960.1L1123.2 976.7L1127.3 976.7L1131.4 1029.0L1135.5 1029.6L1139.6 1029.6L1143.7 931.5L1147.8 930.3L1151.9 969.5L1155.9 970.0L1160.0 970.0L1164.1 970.0L1168.2 970.0L1172.3 950.5L1176.4 950.2L1180.5 950.2L1184.5 994.5L1188.6 994.9L1192.7 1009.8L1196.8 1009.8L1200.9 989.9L1205.0 989.9L1209.1 1001.5L1213.2 1001.5L1217.2 1003.1L1221.3 1003.1L1225.4 1071.0L1229.5 1071.0L1233.6 1043.7L1240.1 909.5L1244.2 908.8L1248.3 908.8L1252.4 985.9L1256.4 986.6L1260.5 914.3L1264.6 913.8L1268.7 984.4L1272.8 984.9L1276.9 910.5L1281.0 910.5L1285.1 907.2L1289.1 907.2L1293.2 910.5L1297.3 910.5L1301.4 907.2L1305.5 907.2L1309.6 908.8L1313.7 908.8L1317.8 908.8L1321.8 910.5L1325.9 910.5L1330.0 910.5L1334.1 918.7L1338.2 918.7L1342.3 958.5L1346.4 958.8L1350.4 928.7L1354.5 928.7L1358.6 963.4L1362.7 963.4L1366.8 935.3L1370.9 935.3L1375.0 909.5L1379.1 908.8L1383.1 908.8L1387.2 908.8L1391.3 908.8L1395.4 907.2L1399.5 906.8L1403.6 990.7L1407.7 991.6L1411.8 937.3L1415.8 936.9L1419.9 908.8L1424.0 908.8L1428.1 907.2L1432.2 906.8L1436.3 912.1L1440.4 912.1L1444.4 915.4L1448.5 915.4L1452.6 912.1L1456.7 912.1L1460.8 912.1L1464.9 920.4L1469.0 920.4L1473.1 1051.1L1479.6 1065.2L1483.7 912.1L1487.8 910.5L1491.9 913.8L1495.9 913.8L1500.0 912.1L1504.1 912.1L1508.2 912.1L1512.3 913.8L1516.4 913.8L1520.5 912.1L1524.6 912.1L1528.6 912.1L1532.7 938.6L1536.8 938.6L1540.9 970.0L1545.0 970.0L1549.1 909.8L1553.2 908.8L1557.3 920.4L1561.3 920.4L1565.4 920.4L1569.5 910.5L1573.6 910.5L1577.7 920.4L1581.8 920.4L1585.9 907.2L1589.9 907.2L1594.0 912.1L1598.1 912.1L1602.2 912.1L1606.3 908.8L1610.4 908.8L1614.5 920.4L1618.6 920.4L1622.6 910.5L1626.7 910.5L1630.8 936.9L1634.9 936.9L1639.0 936.9L1643.1 908.8L1647.2 908.8L1651.3 910.5L1655.3 910.5L1659.4 954.8L1663.5 955.1L1667.6 955.1L1671.7 927.0L1675.8 927.0L1679.9 935.3L1683.9 935.3L1688.0 908.8L1692.1 908.8L1696.2 970.0L1700.3 970.0L1704.4 909.5L1708.5 908.8L1712.6 908.8L1716.6 967.4L1720.7 968.4L1724.8 968.4L1728.9 907.8L1733.0 907.2L1737.1 910.5L1741.2 910.5L1745.3 910.5L1749.3 910.5L1753.4 910.5L1757.5 944.9L1761.6 945.2L1765.7 945.6L1769.8 908.8L1773.9 908.8L1782.2 1067.7L1786.3 1067.7L1790.4 1066.0L1794.5 1066.0L1798.5 1064.4L1802.6 1064.4L1806.7 1064.4L1810.8 1051.1L1814.9 1051.1L1819.0 1056.1L1823.1 1056.1L1827.2 1056.1L1831.2 1056.1L1835.3 1056.1L1839.4 1056.1L1843.5 1057.8L1847.6 1057.8L1851.7 1049.5L1855.8 1049.5L1859.9 1051.1L1863.9 1051.1L1868.0 1051.1L1872.1 1051.1" stroke="#d22d2d" stroke-width="1.9" fill="none" stroke-linejoin="round" stroke-linecap="butt"/>
<path d="M569.2 1259.39H2000.3M569.2 1241.98H2000.3M569.2 1224.57H2000.3M569.2 1207.16H2000.3M569.2 1189.75H2000.3M569.2 1172.34H2000.3M569.2 1154.93H2000.3M569.2 1137.52H2000.3M569.2 1120.11H2000.3M569.2 1102.70H2000.3" stroke="#f1f1f1" stroke-width="1" fill="none" shape-rendering="crispEdges"/>
<path d="M569.2 1276.80H2000.3V1282.30" stroke="#d4d4d4" stroke-width="1" fill="none" shape-rendering="crispEdges"/>
<path d="M569.5 1276.80v6M977.5 1276.80v6M1386.5 1276.80v6M1795.5 1276.80v6" stroke="#a2a2a2" stroke-width="1" fill="none" shape-rendering="crispEdges"/>
<text transform="translate(569.20,1291.50) skewX(0.1)" font-size="9.4" fill="#7c7c7c" text-anchor="middle" textLength="21.30" lengthAdjust="spacingAndGlyphs">00:00</text>
<text transform="translate(977.98,1291.50) skewX(0.1)" font-size="9.4" fill="#7c7c7c" text-anchor="middle" textLength="21.30" lengthAdjust="spacingAndGlyphs">01:40</text>
<text transform="translate(1386.77,1291.50) skewX(0.1)" font-size="9.4" fill="#7c7c7c" text-anchor="middle" textLength="21.30" lengthAdjust="spacingAndGlyphs">03:20</text>
<text transform="translate(1795.55,1291.50) skewX(0.1)" font-size="9.4" fill="#7c7c7c" text-anchor="middle" textLength="21.30" lengthAdjust="spacingAndGlyphs">05:00</text>
<path d="M563.2 1276.80h6M563.2 1241.98h6M563.2 1207.16h6M563.2 1172.34h6M563.2 1137.52h6M563.2 1097.30h6" stroke="#a2a2a2" stroke-width="1" fill="none" shape-rendering="crispEdges"/>
<text transform="translate(559.80,1279.25) skewX(0.1)" font-size="9.4" fill="#7c7c7c" text-anchor="end" textLength="4.57" lengthAdjust="spacingAndGlyphs">0</text>
<text transform="translate(559.80,1244.43) skewX(0.1)" font-size="9.4" fill="#7c7c7c" text-anchor="end" textLength="18.28" lengthAdjust="spacingAndGlyphs">1000</text>
<text transform="translate(559.80,1209.61) skewX(0.1)" font-size="9.4" fill="#7c7c7c" text-anchor="end" textLength="18.28" lengthAdjust="spacingAndGlyphs">2000</text>
<text transform="translate(559.80,1174.79) skewX(0.1)" font-size="9.4" fill="#7c7c7c" text-anchor="end" textLength="18.28" lengthAdjust="spacingAndGlyphs">3000</text>
<text transform="translate(559.80,1139.97) skewX(0.1)" font-size="9.4" fill="#7c7c7c" text-anchor="end" textLength="18.28" lengthAdjust="spacingAndGlyphs">4000</text>
<text transform="translate(533.20,1186.80) rotate(-90) skewX(0.1)" font-size="11" fill="#777" text-anchor="middle" textLength="70.60" lengthAdjust="spacingAndGlyphs">Частота (МГц)</text>
<path d="M569.0 1097V1275" stroke="#686868" stroke-width="1.8" stroke-dasharray="3 1" fill="none"/>
<text transform="translate(580.10,1268.10) rotate(-90) skewX(0.1)" font-size="9.6" fill="#3a3a3a" textLength="23.3" lengthAdjust="spacingAndGlyphs">Демо</text>
<path d="M1236.0 1097V1275" stroke="#454545" stroke-width="1" stroke-dasharray="3 1" fill="none"/>
<text transform="translate(1247.10,1268.10) rotate(-90) skewX(0.1)" font-size="9.6" fill="#3a3a3a" textLength="65.6" lengthAdjust="spacingAndGlyphs">Graphics test 1</text>
<path d="M1475.5 1097V1275" stroke="#454545" stroke-width="1" stroke-dasharray="3 1" fill="none"/>
<text transform="translate(1486.60,1268.10) rotate(-90) skewX(0.1)" font-size="9.6" fill="#3a3a3a" textLength="65.6" lengthAdjust="spacingAndGlyphs">Graphics test 2</text>
<path d="M1778.0 1097V1275" stroke="#454545" stroke-width="1" stroke-dasharray="3 1" fill="none"/>
<text transform="translate(1789.10,1268.10) rotate(-90) skewX(0.1)" font-size="9.6" fill="#3a3a3a" textLength="35.6" lengthAdjust="spacingAndGlyphs">CPU test</text>
<path d="M571.5 1244.9L575.6 1244.6L579.7 1244.9L583.8 1247.1L587.8 1247.1L591.9 1207.8L596.0 1207.4L600.1 1245.2L604.2 1245.6L608.3 1245.6L612.4 1245.6L616.5 1245.2L620.5 1245.2L624.6 1245.6L628.7 1245.6L632.8 1245.6L636.9 1245.6L641.0 1245.6L645.1 1245.6L649.2 1245.6L653.2 1240.6L657.3 1240.6L661.4 1243.8L665.5 1243.8L669.6 1239.0L673.7 1238.8L677.8 1259.6L681.8 1259.6L685.9 1276.2L690.0 1276.2L694.1 1245.6L698.2 1245.2L702.3 1245.6L706.4 1245.6L710.5 1208.0L714.5 1207.5L718.6 1207.6L722.7 1207.6L726.8 1207.6L730.9 1207.6L735.0 1207.6L739.1 1207.6L743.2 1207.6L747.2 1207.6L751.3 1207.6L755.4 1207.6L759.5 1207.6L763.6 1207.6L767.7 1207.6L771.8 1207.6L775.9 1207.6L779.9 1207.6L784.0 1207.6L788.1 1207.6L792.2 1207.6L796.3 1207.6L800.4 1207.6L804.5 1207.6L808.5 1207.6L812.6 1207.6L816.7 1207.6L820.8 1207.6L824.9 1207.6L829.0 1207.6L833.1 1207.6L837.2 1207.6L841.2 1207.6L845.3 1207.6L849.4 1207.6L853.5 1207.6L857.6 1207.6L861.7 1207.6L865.8 1207.6L869.9 1207.6L873.9 1207.6L878.0 1207.6L882.1 1207.6L886.2 1207.6L890.3 1207.6L894.4 1207.6L898.5 1207.6L902.5 1207.6L906.6 1207.6L910.7 1207.6L914.8 1207.6L918.9 1207.6L923.0 1207.6L927.1 1207.6L931.2 1207.6L935.2 1207.6L939.3 1207.6L943.4 1207.6L947.5 1207.6L951.6 1207.6L955.7 1207.6L959.8 1207.6L963.9 1207.6L967.9 1207.6L972.0 1207.6L976.1 1207.6L980.2 1207.6L984.3 1207.6L988.4 1207.6L992.5 1207.6L996.5 1207.6L1000.6 1207.6L1004.7 1207.6L1008.8 1207.6L1012.9 1207.6L1017.0 1207.5L1021.1 1220.9L1025.2 1221.1L1029.2 1221.1L1033.3 1210.6L1037.4 1210.2L1041.5 1208.0L1045.6 1207.8L1049.7 1207.8L1053.8 1207.8L1057.9 1207.8L1061.9 1207.8L1066.0 1207.8L1070.1 1207.8L1074.2 1207.8L1078.3 1207.8L1082.4 1207.8L1086.5 1207.8L1090.5 1207.8L1094.6 1207.8L1098.7 1207.8L1102.8 1207.8L1106.9 1207.8L1111.0 1207.8L1115.1 1207.8L1119.2 1207.8L1123.2 1207.8L1127.3 1207.8L1131.4 1207.8L1135.5 1207.8L1139.6 1207.8L1143.7 1207.8L1147.8 1207.8L1151.9 1207.8L1155.9 1207.8L1160.0 1207.8L1164.1 1207.8L1168.2 1207.8L1172.3 1207.8L1176.4 1207.8L1180.5 1207.8L1184.5 1207.8L1188.6 1207.8L1192.7 1207.8L1196.8 1207.8L1200.9 1207.8L1205.0 1207.8L1209.1 1207.8L1213.2 1207.8L1217.2 1207.8L1221.3 1207.8L1225.4 1207.8L1229.5 1269.6L1233.6 1270.5L1240.1 1207.5L1244.2 1207.1L1248.3 1207.8L1252.4 1207.8L1256.4 1207.8L1260.5 1207.8L1264.6 1207.8L1268.7 1207.8L1272.8 1207.8L1276.9 1207.8L1281.0 1208.4L1285.1 1208.4L1289.1 1207.8L1293.2 1207.8L1297.3 1207.8L1301.4 1207.8L1305.5 1207.8L1309.6 1207.8L1313.7 1207.8L1317.8 1207.8L1321.8 1207.8L1325.9 1207.8L1330.0 1207.4L1334.1 1207.4L1338.2 1207.4L1342.3 1207.8L1346.4 1207.8L1350.4 1207.8L1354.5 1207.8L1358.6 1207.8L1362.7 1207.8L1366.8 1207.8L1370.9 1207.8L1375.0 1207.8L1379.1 1207.8L1383.1 1207.8L1387.2 1207.8L1391.3 1207.8L1395.4 1207.8L1399.5 1207.8L1403.6 1207.8L1407.7 1207.8L1411.8 1207.8L1415.8 1207.8L1419.9 1207.8L1424.0 1207.8L1428.1 1207.8L1432.2 1207.8L1436.3 1207.8L1440.4 1207.8L1444.4 1207.8L1448.5 1207.8L1452.6 1207.8L1456.7 1207.8L1460.8 1207.8L1464.9 1207.8L1469.0 1207.8L1473.1 1241.5L1479.6 1208.0L1483.7 1207.8L1487.8 1207.8L1491.9 1207.8L1495.9 1207.8L1500.0 1207.8L1504.1 1207.8L1508.2 1207.8L1512.3 1207.8L1516.4 1207.8L1520.5 1207.8L1524.6 1207.8L1528.6 1207.8L1532.7 1207.8L1536.8 1207.8L1540.9 1207.8L1545.0 1207.8L1549.1 1207.8L1553.2 1207.8L1557.3 1207.8L1561.3 1207.8L1565.4 1207.8L1569.5 1207.8L1573.6 1207.8L1577.7 1207.8L1581.8 1207.8L1585.9 1207.8L1589.9 1207.8L1594.0 1207.8L1598.1 1207.8L1602.2 1207.8L1606.3 1207.8L1610.4 1207.8L1614.5 1207.8L1618.6 1207.8L1622.6 1207.8L1626.7 1207.8L1630.8 1207.8L1634.9 1207.8L1639.0 1207.8L1643.1 1207.8L1647.2 1207.8L1651.3 1207.8L1655.3 1207.8L1659.4 1207.8L1663.5 1207.8L1667.6 1207.8L1671.7 1207.8L1675.8 1207.8L1679.9 1207.8L1683.9 1207.8L1688.0 1207.8L1692.1 1207.8L1696.2 1207.8L1700.3 1207.8L1704.4 1207.8L1708.5 1207.8L1712.6 1207.8L1716.6 1207.8L1720.7 1207.8L1724.8 1207.8L1728.9 1207.8L1733.0 1207.8L1737.1 1207.8L1741.2 1207.8L1745.3 1207.8L1749.3 1207.8L1753.4 1207.8L1757.5 1207.8L1761.6 1207.8L1765.7 1207.8L1769.8 1207.8L1773.9 1207.8L1782.2 1244.6L1786.3 1208.4L1790.4 1207.6L1794.5 1207.6L1798.5 1207.6L1802.6 1207.6L1806.7 1207.6L1810.8 1207.6L1814.9 1207.6L1819.0 1207.6L1823.1 1207.6L1827.2 1207.6L1831.2 1207.6L1835.3 1207.6L1839.4 1207.6L1843.5 1207.6L1847.6 1207.6L1851.7 1207.6L1855.8 1207.6L1859.9 1207.6L1863.9 1207.6L1868.0 1276.2L1872.1 1276.8" stroke="#ebcb7b" stroke-width="1.9" fill="none" stroke-linejoin="round" stroke-linecap="butt"/>
<path d="M571.5 1273.0L575.6 1273.0L579.7 1273.0L583.8 1235.5L587.8 1235.0L591.9 1275.5L596.0 1275.9L600.1 1274.0L604.2 1274.0L608.3 1259.4L612.4 1259.4L616.5 1275.9L620.5 1276.2L624.6 1259.4L628.7 1259.4L632.8 1259.4L636.9 1259.4L641.0 1275.5L645.1 1276.2L649.2 1276.2L653.2 1276.2L657.3 1276.2L661.4 1274.6L665.5 1274.6L669.6 1276.8L673.7 1276.8L677.8 1271.2L681.8 1270.9L685.9 1276.8L690.0 1276.8L694.1 1276.8L698.2 1276.8L702.3 1259.6L706.4 1259.6L710.5 1192.5L714.5 1191.5L718.6 1192.1L722.7 1192.1L726.8 1191.8L730.9 1191.5L735.0 1234.0L739.1 1234.2L743.2 1193.0L747.2 1193.0L751.3 1205.5L755.4 1205.5L759.5 1200.9L763.6 1200.6L767.7 1197.5L771.8 1197.1L775.9 1196.8L779.9 1196.8L784.0 1207.1L788.1 1207.1L792.2 1212.1L796.3 1212.1L800.4 1203.0L804.5 1202.8L808.5 1210.0L812.6 1210.0L816.7 1217.8L820.8 1217.8L824.9 1216.2L829.0 1216.2L833.1 1220.0L837.2 1220.0L841.2 1214.0L845.3 1214.0L849.4 1203.8L853.5 1203.8L857.6 1193.0L861.7 1193.0L865.8 1195.6L869.9 1195.9L873.9 1210.6L878.0 1210.6L882.1 1204.6L886.2 1204.6L890.3 1220.9L894.4 1221.1L898.5 1219.6L902.5 1219.6L906.6 1219.6L910.7 1217.5L914.8 1217.5L918.9 1234.2L923.0 1234.6L927.1 1213.4L931.2 1213.1L935.2 1225.2L939.3 1225.6L943.4 1216.1L947.5 1215.9L951.6 1205.9L955.7 1205.6L959.8 1203.4L963.9 1203.1L967.9 1198.8L972.0 1198.8L976.1 1202.1L980.2 1202.1L984.3 1205.9L988.4 1205.9L992.5 1210.9L996.5 1210.9L1000.6 1204.6L1004.7 1204.4L1008.8 1196.8L1012.9 1196.5L1017.0 1196.5L1021.1 1192.5L1025.2 1192.5L1029.2 1192.5L1033.3 1199.6L1037.4 1199.9L1041.5 1214.0L1045.6 1214.0L1049.7 1217.8L1053.8 1218.0L1057.9 1222.8L1061.9 1223.0L1066.0 1194.6L1070.1 1194.4L1074.2 1193.8L1078.3 1193.8L1082.4 1199.6L1086.5 1199.9L1090.5 1208.8L1094.6 1208.8L1098.7 1200.0L1102.8 1200.2L1106.9 1211.8L1111.0 1211.5L1115.1 1208.1L1119.2 1208.1L1123.2 1216.2L1127.3 1216.2L1131.4 1216.2L1135.5 1226.8L1139.6 1227.1L1143.7 1197.4L1147.8 1197.1L1151.9 1213.0L1155.9 1213.4L1160.0 1213.4L1164.1 1213.0L1168.2 1213.0L1172.3 1203.6L1176.4 1203.6L1180.5 1223.0L1184.5 1223.0L1188.6 1223.0L1192.7 1223.0L1196.8 1229.4L1200.9 1229.4L1205.0 1238.4L1209.1 1238.4L1213.2 1238.8L1217.2 1238.8L1221.3 1220.2L1225.4 1220.2L1229.5 1259.0L1233.6 1259.6L1240.1 1215.8L1244.2 1188.0L1248.3 1187.1L1252.4 1187.1L1256.4 1187.1L1260.5 1187.1L1264.6 1187.1L1268.7 1187.1L1272.8 1187.1L1276.9 1187.1L1281.0 1205.2L1285.1 1205.2L1289.1 1190.9L1293.2 1190.6L1297.3 1187.1L1301.4 1186.9L1305.5 1190.2L1309.6 1190.2L1313.7 1190.0L1317.8 1190.0L1321.8 1190.0L1325.9 1190.0L1330.0 1190.5L1334.1 1190.5L1338.2 1190.5L1342.3 1212.1L1346.4 1212.4L1350.4 1200.0L1354.5 1200.0L1358.6 1214.0L1362.7 1214.0L1366.8 1201.2L1370.9 1200.9L1375.0 1189.6L1379.1 1189.2L1383.1 1190.5L1387.2 1190.5L1391.3 1190.5L1395.4 1190.6L1399.5 1190.6L1403.6 1215.6L1407.7 1215.9L1411.8 1192.5L1415.8 1192.1L1419.9 1187.5L1424.0 1187.5L1428.1 1189.6L1432.2 1189.9L1436.3 1189.9L1440.4 1189.6L1444.4 1187.4L1448.5 1187.1L1452.6 1187.1L1456.7 1187.1L1460.8 1187.4L1464.9 1188.8L1469.0 1188.8L1473.1 1259.0L1479.6 1190.9L1483.7 1190.0L1487.8 1192.8L1491.9 1193.0L1495.9 1192.1L1500.0 1192.1L1504.1 1214.6L1508.2 1214.6L1512.3 1190.2L1516.4 1190.2L1520.5 1193.0L1524.6 1193.4L1528.6 1193.4L1532.7 1193.4L1536.8 1197.8L1540.9 1197.8L1545.0 1192.1L1549.1 1191.8L1553.2 1191.8L1557.3 1193.0L1561.3 1193.0L1565.4 1193.0L1569.5 1193.0L1573.6 1193.0L1577.7 1192.1L1581.8 1192.1L1585.9 1191.9L1589.9 1190.5L1594.0 1190.2L1598.1 1220.5L1602.2 1220.9L1606.3 1190.5L1610.4 1190.2L1614.5 1193.0L1618.6 1193.0L1622.6 1190.5L1626.7 1190.5L1630.8 1202.8L1634.9 1203.0L1639.0 1203.0L1643.1 1190.5L1647.2 1190.2L1651.3 1187.5L1655.3 1187.4L1659.4 1208.1L1663.5 1208.4L1667.6 1208.4L1671.7 1196.1L1675.8 1196.1L1679.9 1199.0L1683.9 1199.0L1688.0 1190.2L1692.1 1190.0L1696.2 1195.0L1700.3 1195.0L1704.4 1189.6L1708.5 1189.4L1712.6 1187.8L1716.6 1187.8L1720.7 1189.0L1724.8 1189.4L1728.9 1189.6L1733.0 1191.8L1737.1 1191.8L1741.2 1190.0L1745.3 1190.0L1749.3 1191.9L1753.4 1192.1L1757.5 1200.6L1761.6 1200.6L1765.7 1191.9L1769.8 1191.9L1773.9 1266.2L1782.2 1276.8L1786.3 1274.2L1790.4 1274.0L1794.5 1273.4L1798.5 1273.4L1802.6 1270.9L1806.7 1270.5L1810.8 1269.9L1814.9 1269.9L1819.0 1269.9L1823.1 1271.9L1827.2 1271.9L1831.2 1270.2L1835.3 1270.0L1839.4 1270.0L1843.5 1270.0L1847.6 1270.0L1851.7 1267.1L1855.8 1266.9L1859.9 1265.5L1863.9 1265.2L1868.0 1276.5L1872.1 1276.8" stroke="#eb7aa4" stroke-width="1.9" fill="none" stroke-linejoin="round" stroke-linecap="butt"/>
<path d="M571.5 1113.4L575.6 1113.4L579.7 1113.0L583.8 1113.1L587.8 1113.4L591.9 1116.9L596.0 1113.4L600.1 1113.4L604.2 1113.4L608.3 1113.4L612.4 1113.4L616.5 1113.4L620.5 1113.0L624.6 1113.0L628.7 1113.4L632.8 1113.4L636.9 1113.4L641.0 1113.4L645.1 1116.5L649.2 1116.9L653.2 1116.9L657.3 1113.4L661.4 1113.4L665.5 1116.9L669.6 1113.4L673.7 1113.1L677.8 1113.4L681.8 1117.1L685.9 1116.5L690.0 1113.1L694.1 1116.9L698.2 1113.0L702.3 1116.9L706.4 1116.9L710.5 1116.5L714.5 1116.8L718.6 1116.8L722.7 1116.8L726.8 1116.8L730.9 1116.8L735.0 1116.8L739.1 1116.4L743.2 1116.8L747.2 1116.8L751.3 1116.8L755.4 1116.8L759.5 1116.8L763.6 1116.8L767.7 1116.8L771.8 1116.8L775.9 1116.8L779.9 1116.8L784.0 1116.8L788.1 1116.5L792.2 1116.2L796.3 1116.5L800.4 1116.2L804.5 1116.8L808.5 1116.5L812.6 1116.8L816.7 1116.8L820.8 1116.8L824.9 1116.8L829.0 1116.8L833.1 1116.8L837.2 1116.8L841.2 1116.8L845.3 1116.8L849.4 1116.8L853.5 1116.8L857.6 1116.8L861.7 1116.8L865.8 1116.8L869.9 1116.8L873.9 1116.8L878.0 1116.8L882.1 1116.5L886.2 1116.8L890.3 1116.8L894.4 1116.8L898.5 1116.8L902.5 1116.8L906.6 1116.8L910.7 1116.4L914.8 1116.4L918.9 1116.8L923.0 1116.8L927.1 1116.8L931.2 1116.8L935.2 1116.8L939.3 1116.8L943.4 1116.8L947.5 1116.8L951.6 1116.4L955.7 1116.8L959.8 1116.8L963.9 1116.8L967.9 1116.8L972.0 1116.8L976.1 1116.8L980.2 1116.8L984.3 1116.8L988.4 1116.8L992.5 1116.8L996.5 1116.8L1000.6 1116.8L1004.7 1116.8L1008.8 1116.8L1012.9 1116.8L1017.0 1116.8L1021.1 1116.4L1025.2 1116.4L1029.2 1116.8L1033.3 1116.8L1037.4 1116.8L1041.5 1116.8L1045.6 1116.8L1049.7 1116.8L1053.8 1116.8L1057.9 1116.4L1061.9 1116.8L1066.0 1116.8L1070.1 1116.8L1074.2 1116.8L1078.3 1116.8L1082.4 1116.4L1086.5 1116.8L1090.5 1116.8L1094.6 1116.8L1098.7 1116.8L1102.8 1116.8L1106.9 1116.8L1111.0 1116.8L1115.1 1116.8L1119.2 1116.4L1123.2 1116.8L1127.3 1116.8L1131.4 1116.8L1135.5 1116.4L1139.6 1116.8L1143.7 1116.8L1147.8 1116.8L1151.9 1116.8L1155.9 1116.8L1160.0 1116.8L1164.1 1116.8L1168.2 1116.8L1172.3 1116.8L1176.4 1116.8L1180.5 1116.8L1184.5 1116.8L1188.6 1116.8L1192.7 1116.8L1196.8 1116.4L1200.9 1116.8L1205.0 1116.8L1209.1 1116.8L1213.2 1116.8L1217.2 1116.8L1221.3 1116.8L1225.4 1113.0L1229.5 1113.0L1233.6 1116.5L1240.1 1116.8L1244.2 1116.8L1248.3 1116.8L1252.4 1134.1L1256.4 1151.5L1260.5 1117.5L1264.6 1178.6L1268.7 1117.5L1272.8 1151.5L1276.9 1116.8L1281.0 1116.8L1285.1 1116.8L1289.1 1116.8L1293.2 1116.8L1297.3 1116.8L1301.4 1116.8L1305.5 1116.8L1309.6 1116.8L1313.7 1116.8L1317.8 1116.8L1321.8 1116.8L1325.9 1116.8L1330.0 1116.8L1334.1 1116.8L1338.2 1116.8L1342.3 1116.8L1346.4 1116.8L1350.4 1116.8L1354.5 1116.8L1358.6 1116.8L1362.7 1116.8L1366.8 1206.5L1370.9 1118.4L1375.0 1116.8L1379.1 1116.8L1383.1 1116.8L1387.2 1116.8L1391.3 1116.8L1395.4 1116.8L1399.5 1116.8L1403.6 1116.8L1407.7 1124.2L1411.8 1116.8L1415.8 1117.5L1419.9 1123.4L1424.0 1123.8L1428.1 1137.5L1432.2 1137.8L1436.3 1116.8L1440.4 1118.8L1444.4 1179.0L1448.5 1124.6L1452.6 1118.4L1456.7 1116.8L1460.8 1116.8L1464.9 1124.6L1469.0 1124.2L1473.1 1113.8L1479.6 1116.5L1483.7 1116.8L1487.8 1150.9L1491.9 1117.8L1495.9 1117.8L1500.0 1116.8L1504.1 1116.8L1508.2 1116.8L1512.3 1116.8L1516.4 1117.1L1520.5 1123.4L1524.6 1137.8L1528.6 1137.8L1532.7 1116.8L1536.8 1116.5L1540.9 1116.5L1545.0 1116.5L1549.1 1123.8L1553.2 1152.1L1557.3 1119.2L1561.3 1137.1L1565.4 1117.5L1569.5 1150.9L1573.6 1117.5L1577.7 1165.2L1581.8 1116.8L1585.9 1116.8L1589.9 1123.8L1594.0 1116.8L1598.1 1116.8L1602.2 1116.8L1606.3 1116.8L1610.4 1116.8L1614.5 1116.8L1618.6 1116.8L1622.6 1116.8L1626.7 1116.8L1630.8 1116.8L1634.9 1117.8L1639.0 1116.8L1643.1 1116.8L1647.2 1116.8L1651.3 1116.8L1655.3 1116.8L1659.4 1116.8L1663.5 1116.8L1667.6 1116.8L1671.7 1116.8L1675.8 1116.8L1679.9 1116.8L1683.9 1125.2L1688.0 1117.1L1692.1 1116.8L1696.2 1116.8L1700.3 1116.8L1704.4 1116.8L1708.5 1116.8L1712.6 1116.8L1716.6 1116.8L1720.7 1116.8L1724.8 1116.8L1728.9 1116.8L1733.0 1116.8L1737.1 1116.8L1741.2 1116.8L1745.3 1116.8L1749.3 1116.8L1753.4 1116.8L1757.5 1116.8L1761.6 1116.8L1765.7 1116.8L1769.8 1116.8L1773.9 1116.8L1782.2 1116.8L1786.3 1116.8L1790.4 1116.8L1794.5 1116.8L1798.5 1116.8L1802.6 1116.8L1806.7 1116.8L1810.8 1116.8L1814.9 1116.8L1819.0 1116.8L1823.1 1116.8L1827.2 1116.8L1831.2 1116.8L1835.3 1116.8L1839.4 1116.8L1843.5 1116.8L1847.6 1116.8L1851.7 1116.8L1855.8 1116.8L1859.9 1116.8L1863.9 1116.8L1868.0 1115.5L1872.1 1113.4" stroke="#8c50cd" stroke-width="1.9" fill="none" stroke-linejoin="round" stroke-linecap="butt"/>
<rect x="534" y="1311" width="204.90" height="4.9" fill="#f07c1e"/>
<text transform="translate(534.00,1330.60) skewX(0.1)" font-size="10.6" fill="#5e5e5e" textLength="120.50" lengthAdjust="spacingAndGlyphs">Кадровая частота (кадр/с)</text>
<rect x="744" y="1311" width="205.85" height="4.9" fill="#14fac3"/>
<text transform="translate(744.00,1330.60) skewX(0.1)" font-size="10.6" fill="#5e5e5e" textLength="101.50" lengthAdjust="spacingAndGlyphs">Температура ЦПУ (°C)</text>
<rect x="955" y="1311" width="205.95" height="4.9" fill="#16aefc"/>
<text transform="translate(955.00,1330.60) skewX(0.1)" font-size="10.6" fill="#5e5e5e" textLength="99.50" lengthAdjust="spacingAndGlyphs">Температура ГПУ (°C)</text>
<rect x="1166" y="1311" width="205.90" height="4.9" fill="#d22d2d"/>
<text transform="translate(1166.00,1330.60) skewX(0.1)" font-size="10.6" fill="#5e5e5e" textLength="77.50" lengthAdjust="spacingAndGlyphs">Загрузка ГПУ (%)</text>
<rect x="1377" y="1311" width="205.90" height="4.9" fill="#8c50cd"/>
<text transform="translate(1377.00,1330.60) skewX(0.1)" font-size="10.6" fill="#5e5e5e" textLength="86.00" lengthAdjust="spacingAndGlyphs">Частота ЦПУ (МГц)</text>
<rect x="1588" y="1311" width="205.90" height="4.9" fill="#ebcb7b"/>
<text transform="translate(1588.00,1330.60) skewX(0.1)" font-size="10.6" fill="#5e5e5e" textLength="121.00" lengthAdjust="spacingAndGlyphs">Частота памяти ГПУ (МГц)</text>
<rect x="1799" y="1311" width="209.90" height="4.9" fill="#eb7aa4"/>
<text transform="translate(1799.00,1330.60) skewX(0.1)" font-size="10.6" fill="#5e5e5e" textLength="84.00" lengthAdjust="spacingAndGlyphs">Частота ГПУ (МГц)</text>
</svg>
</body></html>
